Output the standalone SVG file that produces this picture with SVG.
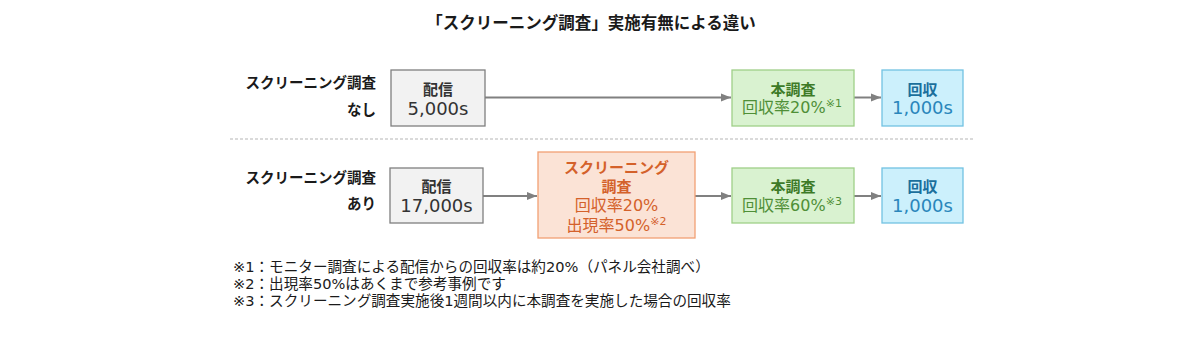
<svg xmlns="http://www.w3.org/2000/svg" width="1200" height="342" viewBox="0 0 1200 342">
<style>
text{font-family:"DejaVu Sans","Noto Sans CJK JP",sans-serif}
.t{font-family:"Noto Sans CJK JP",sans-serif;font-weight:bold}
.title{font-size:16.5px;fill:#1a1a1a}
.lbl{font-size:14.5px;fill:#1a1a1a;text-anchor:end}
.hd{font-family:"Noto Sans CJK JP",sans-serif;font-weight:bold;font-size:15px;text-anchor:middle}
.num{font-size:18px;text-anchor:middle}
.sub{font-size:16px;text-anchor:middle}
.sup{font-size:11px}
.note{font-size:14.6px;fill:#1a1a1a}
.gray rect{fill:#f2f2f2;stroke:#7f7f7f;stroke-width:1.3}
.gray text{fill:#333}
.green rect{fill:#d9f2d0;stroke:#9fcf88;stroke-width:1.3}
.green .hd{fill:#3d7a27}
.green .sub{fill:#4f8f37}
.blue rect{fill:#ccf0fc;stroke:#72c2e2;stroke-width:1.3}
.blue .hd{fill:#1b6f9c}
.blue .num{fill:#2a86bb}
.orange rect{fill:#fbe3d6;stroke:#f2a073;stroke-width:1.3}
.orange text{fill:#d4612a}
.conn line{stroke:#808080;stroke-width:2;fill:none}
</style>
<defs>
<marker id="arr" markerUnits="userSpaceOnUse" markerWidth="10" markerHeight="9" viewBox="0 0 10 9" refX="10" refY="4.5" orient="auto"><path d="M0,0.5 L10,4.5 L0,8.5 z" fill="#808080"/></marker>
</defs>
<text class="t title" x="591" y="29" text-anchor="middle">「スクリーニング調査」実施有無による違い</text>

<g id="label-nashi">
<text class="t lbl" x="376" y="88">スクリーニング調査</text>
<text class="t lbl" x="376" y="115">なし</text>
</g>
<g id="label-ari">
<text class="t lbl" x="376" y="183">スクリーニング調査</text>
<text class="t lbl" x="376" y="209">あり</text>
</g>

<line id="divider" x1="230" y1="139" x2="973" y2="139" stroke="#b5b5b5" stroke-width="1" stroke-dasharray="3,2"/>

<g class="conn" id="connectors">
<line x1="485" y1="97.5" x2="731" y2="97.5" marker-end="url(#arr)"/>
<line x1="854" y1="97.5" x2="881" y2="97.5" marker-end="url(#arr)"/>
<line x1="483" y1="196" x2="537" y2="196" marker-end="url(#arr)"/>
<line x1="695" y1="196" x2="731" y2="196" marker-end="url(#arr)"/>
<line x1="854" y1="196" x2="881" y2="196" marker-end="url(#arr)"/>
</g>

<g id="haishin1" class="gray">
<rect x="391" y="70" width="94" height="56"/>
<text class="hd" x="438" y="95">配信</text>
<text class="num" x="438" y="115">5,000s</text>
</g>
<g id="honchosa1" class="green">
<rect x="732" y="70" width="122" height="56"/>
<text class="hd" x="793" y="95">本調査</text>
<text class="sub" x="792" y="113">回収率20%<tspan class="sup" dy="-6">※1</tspan></text>
</g>
<g id="kaishu1" class="blue">
<rect x="882" y="70" width="81" height="56"/>
<text class="hd" x="922.5" y="95">回収</text>
<text class="num" x="922.5" y="114">1,000s</text>
</g>

<g id="haishin2" class="gray">
<rect x="390" y="168" width="93" height="55"/>
<text class="hd" x="436.5" y="192">配信</text>
<text class="num" x="436.5" y="212">17,000s</text>
</g>
<g id="screening" class="orange">
<rect x="538" y="152" width="157" height="86"/>
<text class="hd" x="616.5" y="173">スクリーニング</text>
<text class="hd" x="616.5" y="192">調査</text>
<text class="sub" x="616.5" y="211">回収率20%</text>
<text class="sub" x="616.5" y="231">出現率50%<tspan class="sup" dy="-6">※2</tspan></text>
</g>
<g id="honchosa2" class="green">
<rect x="732" y="168" width="122" height="55"/>
<text class="hd" x="793" y="192">本調査</text>
<text class="sub" x="792" y="211">回収率60%<tspan class="sup" dy="-6">※3</tspan></text>
</g>
<g id="kaishu2" class="blue">
<rect x="882" y="168" width="81" height="55"/>
<text class="hd" x="922.5" y="192">回収</text>
<text class="num" x="922.5" y="212">1,000s</text>
</g>

<g id="notes">
<text class="note" x="233" y="272">※1：モニター調査による配信からの回収率は約20%（パネル会社調べ）</text>
<text class="note" x="233" y="289">※2：出現率50%はあくまで参考事例です</text>
<text class="note" x="233" y="306">※3：スクリーニング調査実施後1週間以内に本調査を実施した場合の回収率</text>
</g>
</svg>
